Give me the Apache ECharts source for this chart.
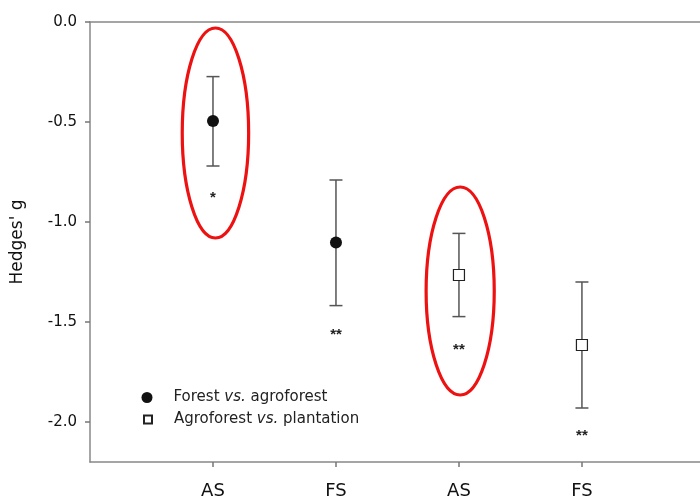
<!DOCTYPE html>
<html>
<head>
<meta charset="utf-8">
<script src="https://cdn.jsdelivr.net/npm/echarts@6/dist/echarts.min.js"></script>
<style>html,body{margin:0;padding:0;background:#fff}#c{width:700px;height:500px}</style>
</head>
<body>
<div id="c"></div>
<script>
// Data
const categories = ['AS', 'FS', 'AS', 'FS'];
const catPos = [1, 2, 3, 4];
const yTicks = [0, -0.5, -1.0, -1.5, -2.0];

const s1Name = 'Forest vs. agroforest';
const s1X = [1, 2];
const s1Mean = [-0.495, -1.103];
const s1Upper = [-0.273, -0.79];
const s1Lower = [-0.72, -1.418];

const s2Name = 'Agroforest vs. plantation';
const s2X = [3, 4];
const s2Mean = [-1.265, -1.615];
const s2Upper = [-1.057, -1.30];
const s2Lower = [-1.473, -1.93];

const starX = [1, 2, 3, 4];
const starY = [-0.865, -1.55, -1.625, -2.055];
const starText = ['*', '**', '**', '**'];

// ellipses: [cx, cy, rx(x units), ry(y units)]
const ellipses = [[1.02, -0.555, 0.27, 0.525], [3.01, -1.345, 0.277, 0.52]];

const errData = [];
s1X.forEach((x, i) => errData.push([x, s1Lower[i], s1Upper[i]]));
s2X.forEach((x, i) => errData.push([x, s2Lower[i], s2Upper[i]]));

const chart = echarts.init(document.getElementById('c'));
const font = '"DejaVu Sans", sans-serif';

function legendFmt(name) {
  const parts = name.split(' vs. ');
  return '{n|' + parts[0] + ' }{i|vs.}{n| ' + parts[1] + '}';
}
function legendText(pad) {
  return {
    fontFamily: font, fontSize: 15, color: '#222', padding: [0, 0, 0, pad],
    rich: { n: { fontFamily: font, fontSize: 15, color: '#222' },
            i: { fontFamily: font, fontSize: 15, color: '#222', fontStyle: 'italic' } }
  };
}

chart.setOption({
  animation: false,
  backgroundColor: '#fff',
  textStyle: { fontFamily: font },
  grid: { left: 90, right: 0, top: 22, bottom: 38, containLabel: false },
  legend: [{
    orient: 'vertical', left: 136.5, top: 385,
    itemWidth: 11, itemHeight: 11,
    data: [s1Name], formatter: legendFmt, textStyle: legendText(16)
  }, {
    orient: 'vertical', left: 138, top: 407,
    itemWidth: 8, itemHeight: 8,
    data: [s2Name], formatter: legendFmt, textStyle: legendText(17)
  }],
  xAxis: [{
    type: 'value', min: 0, max: 4.96,
    axisLine: { show: true, onZero: false, lineStyle: { color: '#888', width: 1.5 } },
    axisTick: { show: true, customValues: catPos, length: 5, lineStyle: { color: '#777', width: 1.5 } },
    axisLabel: { show: true, customValues: catPos, margin: 20, fontSize: 18, color: '#111', fontFamily: font,
      formatter: v => categories[Math.round(v) - 1] || '' },
    splitLine: { show: false }
  }, {
    type: 'value', min: 0, max: 4.96, position: 'top',
    axisLine: { show: true, onZero: false, lineStyle: { color: '#888', width: 1.5 } },
    axisTick: { show: false }, axisLabel: { show: false }, splitLine: { show: false }
  }],
  yAxis: {
    type: 'value', min: -2.2, max: 0,
    name: "Hedges' g", nameLocation: 'middle', nameGap: 64,
    nameTextStyle: { fontSize: 17, color: '#111', fontFamily: font },
    axisLine: { show: true, lineStyle: { color: '#888', width: 1.5 } },
    axisTick: { show: true, customValues: yTicks, length: 5, lineStyle: { color: '#777', width: 1.5 } },
    axisLabel: { show: true, customValues: yTicks, margin: 13, fontSize: 15, color: '#111', fontFamily: font,
      formatter: v => v.toFixed(1) },
    splitLine: { show: false }
  },
  series: [
    {
      type: 'custom', name: 'ellipses', silent: true, z: 1,
      data: ellipses,
      renderItem: function (params, api) {
        const c = api.coord([api.value(0), api.value(1)]);
        const s = api.size([api.value(2), api.value(3)]);
        return { type: 'ellipse', shape: { cx: c[0], cy: c[1], rx: s[0], ry: s[1] },
          style: { fill: 'none', stroke: '#ee1111', lineWidth: 3.2 } };
      }
    },
    {
      type: 'custom', name: 'errorbars', silent: true, z: 2,
      data: errData,
      renderItem: function (params, api) {
        const lo = api.coord([api.value(0), api.value(1)]);
        const hi = api.coord([api.value(0), api.value(2)]);
        const w = 6.5;
        const st = { stroke: '#555', lineWidth: 1.5 };
        return { type: 'group', children: [
          { type: 'line', shape: { x1: lo[0], y1: lo[1], x2: hi[0], y2: hi[1] }, style: st },
          { type: 'line', shape: { x1: lo[0] - w, y1: lo[1], x2: lo[0] + w, y2: lo[1] }, style: st },
          { type: 'line', shape: { x1: hi[0] - w, y1: hi[1], x2: hi[0] + w, y2: hi[1] }, style: st }
        ] };
      }
    },
    {
      type: 'custom', name: 'stars', silent: true, z: 2,
      data: starX.map((x, i) => [x, starY[i], i]),
      renderItem: function (params, api) {
        const c = api.coord([api.value(0), api.value(1)]);
        return { type: 'text', style: { text: starText[api.value(2)], x: c[0], y: c[1] + 3,
          align: 'center', verticalAlign: 'middle', fontSize: 15, fontWeight: 'bold', fill: '#222', fontFamily: '"Liberation Sans", Arial, sans-serif' } };
      }
    },
    {
      type: 'scatter', name: s1Name, z: 3,
      symbol: 'circle', symbolSize: 12,
      itemStyle: { color: '#111', borderColor: '#111', borderWidth: 0, opacity: 1 },
      data: s1X.map((x, i) => [x, s1Mean[i]])
    },
    {
      type: 'scatter', name: s2Name, z: 3,
      symbol: 'rect', symbolSize: 11,
      itemStyle: { color: '#fff', borderColor: '#222', borderWidth: 1.2, opacity: 1 },
      data: s2X.map((x, i) => [x, s2Mean[i]])
    }
  ]
});
</script>
</body>
</html>
